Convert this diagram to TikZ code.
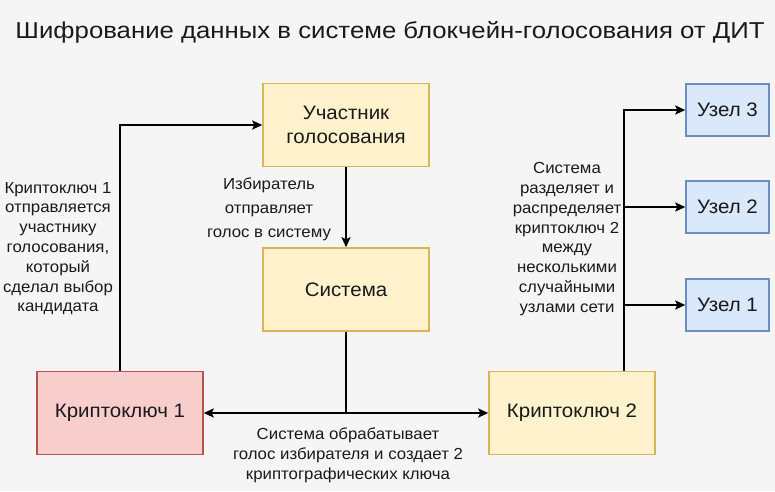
\documentclass[tikz,border=0pt]{standalone}
\usepackage{fontspec}
\setmainfont{Liberation Sans}
\newfontfamily\titlefont[FakeStretch=1.12]{Liberation Sans}
\newfontfamily\bodyfont[FakeStretch=1.05]{Liberation Sans}
\usetikzlibrary{arrows.meta,calc}
\definecolor{bg}{HTML}{F5F5F5}
\definecolor{yfill}{HTML}{FFF2CC}
\definecolor{ydraw}{HTML}{D6B656}
\definecolor{rfill}{HTML}{F8CECC}
\definecolor{rdraw}{HTML}{B85450}
\definecolor{bfill}{HTML}{DAE8FC}
\definecolor{bdraw}{HTML}{6C8EBF}
\definecolor{txt}{HTML}{1A1A1A}
\tikzset{
  box/.style={rectangle, line width=1.5pt, inner sep=0pt, align=center, text=txt,
    font=\bodyfont\fontsize{19.5}{23.5}\selectfont},
  ybox/.style={box, fill=yfill, draw=ydraw, minimum width=166pt, minimum height=83pt},
  rbox/.style={box, fill=rfill, draw=rdraw, minimum width=166pt, minimum height=83pt},
  bbox/.style={box, fill=bfill, draw=bdraw, minimum width=83pt, minimum height=52pt},
  lbl/.style={align=center, text=txt, inner sep=0pt, font=\bodyfont\fontsize{16}{19.8}\selectfont},
  conn/.style={line width=2pt, black},
  arr/.style={conn, -{Stealth[length=10pt,width=9pt,inset=2pt]}}
}
\begin{document}
\begin{tikzpicture}[x=1pt,y=-1pt]
\fill[bg] (0,0) rectangle (775,491);
\useasboundingbox (0,0) rectangle (775,491);

\node[text=txt, font=\titlefont\fontsize{23}{27}\selectfont, inner sep=0pt] (title) at (390,32) {Шифрование данных в системе блокчейн-голосования от ДИТ};

\node[ybox] (u) at (346,125) {Участник\\голосования};
\node[ybox] (s) at (346,289.5) {Система};
\node[rbox] (k1) at (120,413) {Криптоключ 1};
\node[ybox] (k2) at (572,413) {Криптоключ 2};
\node[bbox] (n3) at (727.5,110) {Узел 3};
\node[bbox] (n2) at (727.5,207) {Узел 2};
\node[bbox] (n1) at (727.5,305) {Узел 1};

% left loop
\draw[arr] (k1.north) -- (k1.north |- u.west) -- (u.west);
% vote
\draw[arr] (u.south) -- (s.north);
% split
\coordinate (j) at (s.south |- k1.east);
\draw[conn] (s.south) -- (j);
\draw[arr] (j) -- (k1.east);
\draw[arr] (j) -- (k2.west);
% distribution
\coordinate (rb) at ([xshift=52pt]k2.north);
\draw[arr] (rb) -- (rb |- n3.west) -- (n3.west);
\draw[arr] (rb |- n2.west) -- (n2.west);
\draw[arr] (rb |- n1.west) -- (n1.west);

% labels
\node[lbl] (l1) at (58,248.5) {Криптоключ 1\\отправляется\\участнику\\голосования,\\который\\сделал выбор\\кандидата};
\node[lbl, font=\bodyfont\fontsize{16}{23.8}\selectfont] (l2) at (269,209) {Избиратель\\отправляет\\голос в систему};
\node[lbl] (l3) at (567,239) {Система\\разделяет и\\распределяет\\криптоключ 2\\между\\несколькими\\случайными\\узлами сети};
\node[lbl] (l4) at (348,455) {Система обрабатывает\\голос избирателя и создает 2\\криптографических ключа};
\end{tikzpicture}
\end{document}
